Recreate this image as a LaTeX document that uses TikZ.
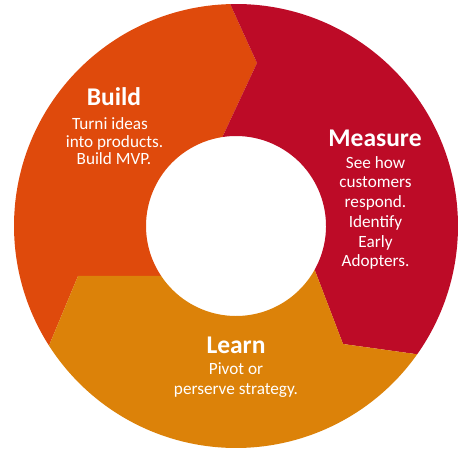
\documentclass[tikz,border=0pt]{standalone}
\usepackage{fontspec}
\setmainfont{Carlito}
\definecolor{buildc}{RGB}{223,74,12}
\definecolor{measurec}{RGB}{189,11,39}
\definecolor{learnc}{RGB}{220,130,9}
\begin{document}
\begin{tikzpicture}[x=1pt,y=1pt,
  head/.style={text=white,font=\fontsize{25.5}{25.5}\selectfont\bfseries,anchor=base,inner sep=0pt},
  body/.style={text=white,font=\fontsize{17.2}{17.2}\selectfont,anchor=base,inner sep=0pt}]
\useasboundingbox (0,0) rectangle (462,452);
\coordinate (C) at (236,226);
\path (C) ++(91.5:222pt) coordinate (O1);
\path (C) ++(-35.3:222pt) coordinate (O2);
\path (C) ++(212.6:222pt) coordinate (O3);
\path (C) ++(98.7:90pt) coordinate (I1);
\path (C) ++(-29.1:90pt) coordinate (I2);
\path (C) ++(213.75:90pt) coordinate (I3);
\coordinate (T1) at (257,389);
\coordinate (T2) at (343,108);
\coordinate (T3) at (78,176);
% segments
\fill[buildc] (O1) arc[start angle=91.5,end angle=212.6,radius=222pt] -- (T3) -- (I3)
  arc[start angle=213.75,end angle=98.7,radius=90pt] -- (T1) -- cycle;
\fill[measurec] (O1) arc[start angle=91.5,end angle=-35.3,radius=222pt] -- (T2) -- (I2)
  arc[start angle=-29.1,end angle=98.7,radius=90pt] -- (T1) -- cycle;
\fill[learnc] (O2) arc[start angle=-35.3,end angle=-147.4,radius=222pt] -- (T3) -- (I3)
  arc[start angle=-146.25,end angle=-29.1,radius=90pt] -- (T2) -- cycle;
% texts
\node[head] (bh) at (114,346.3) {Build};
\node[body] (b1) at (110,322) {Turni ideas};
\node[body] (b2) at (114.5,304.3) {into products.};
\node[body] (b3) at (114,287) {Build MVP.};
\node[head] (mh) at (375,305.3) {Measure};
\node[body] (m1) at (375.5,283.7) {See how};
\node[body] (m2) at (375.5,264) {customers};
\node[body] (m3) at (375.5,244.3) {respond.};
\node[body] (m4) at (375.5,224.6) {Identify};
\node[body] (m5) at (375.5,204.9) {Early};
\node[body] (m6) at (375.5,185.2) {Adopters.};
\node[head] (lh) at (236,98.7) {Learn};
\node[body] (l1) at (236,78) {Pivot or};
\node[body] (l2) at (236,58) {perserve strategy.};
\end{tikzpicture}
\end{document}
